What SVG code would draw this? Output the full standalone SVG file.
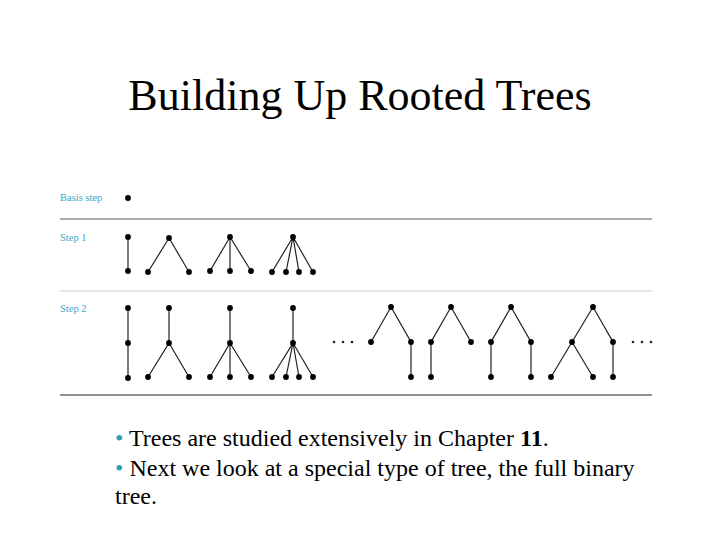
<svg xmlns="http://www.w3.org/2000/svg" width="720" height="540" viewBox="0 0 720 540">
<style>
.e{stroke:#222;stroke-width:1.2;fill:none}
.n{fill:#000}
.lbl{font-family:"Liberation Serif",serif;font-size:10.5px;fill:#3aa8c8}
.t{font-family:"Liberation Serif",serif;font-size:24px;fill:#000}
.b{fill:#2aa0b0}
</style>
<defs><circle id="d" r="2.9" class="n"/></defs>
<rect width="720" height="540" fill="#fff"/>
<text x="360" y="110" text-anchor="middle" font-family="Liberation Serif,serif" font-size="44">Building Up Rooted Trees</text>
<text class="lbl" x="60" y="201">Basis step</text>
<text class="lbl" x="60" y="241">Step 1</text>
<text class="lbl" x="60" y="312">Step 2</text>
<line x1="60" y1="219" x2="652" y2="219" stroke="#555" stroke-width="1"/>
<line x1="60" y1="291" x2="652" y2="291" stroke="#ccc" stroke-width="1.2"/>
<line x1="60" y1="395" x2="652" y2="395" stroke="#222" stroke-width="1"/>
<g id="connectors">
<path class="e" d="M128 237V271M169 238L148 272M169 238L189 272M230 237L210 271M230 237V271M230 237L251 271M293 237L272 272M293 237L286 272M293 237L299 272M293 237L313 272"/>
<path class="e" d="M128 308V378M169 308V343L148 377M169 343L189 377M230 308V343L210 377M230 343V377M230 343L251 377M293 308V343L272 377M293 343L286 377M293 343L299 377M293 343L313 377"/>
<path class="e" d="M391 307L371 342M391 307L411 342V377M451 307L431 342V377M451 307L471 342M511 307L491 342V377M511 307L531 342V377M593 307L572 342L551 377M572 342L593 377M593 307L613 342V377"/>
</g>
<g id="nodes">
<use href="#d" x="128" y="198"/>
<use href="#d" x="128" y="237"/><use href="#d" x="128" y="271"/>
<use href="#d" x="169" y="238"/><use href="#d" x="148" y="272"/><use href="#d" x="189" y="272"/>
<use href="#d" x="230" y="237"/><use href="#d" x="210" y="271"/><use href="#d" x="230" y="271"/><use href="#d" x="251" y="271"/>
<use href="#d" x="293" y="237"/><use href="#d" x="272" y="272"/><use href="#d" x="286" y="272"/><use href="#d" x="299" y="272"/><use href="#d" x="313" y="272"/>
<use href="#d" x="128" y="308"/><use href="#d" x="128" y="343"/><use href="#d" x="128" y="378"/>
<use href="#d" x="169" y="308"/><use href="#d" x="169" y="343"/><use href="#d" x="148" y="377"/><use href="#d" x="189" y="377"/>
<use href="#d" x="230" y="308"/><use href="#d" x="230" y="343"/><use href="#d" x="210" y="377"/><use href="#d" x="230" y="377"/><use href="#d" x="251" y="377"/>
<use href="#d" x="293" y="308"/><use href="#d" x="293" y="343"/><use href="#d" x="272" y="377"/><use href="#d" x="286" y="377"/><use href="#d" x="299" y="377"/><use href="#d" x="313" y="377"/>
<use href="#d" x="391" y="307"/><use href="#d" x="371" y="342"/><use href="#d" x="411" y="342"/><use href="#d" x="411" y="377"/>
<use href="#d" x="451" y="307"/><use href="#d" x="431" y="342"/><use href="#d" x="471" y="342"/><use href="#d" x="431" y="377"/>
<use href="#d" x="511" y="307"/><use href="#d" x="491" y="342"/><use href="#d" x="531" y="342"/><use href="#d" x="491" y="377"/><use href="#d" x="531" y="377"/>
<use href="#d" x="593" y="307"/><use href="#d" x="572" y="342"/><use href="#d" x="613" y="342"/><use href="#d" x="551" y="377"/><use href="#d" x="593" y="377"/><use href="#d" x="613" y="377"/>
</g>
<g fill="#222">
<circle cx="334" cy="342" r="1.3"/><circle cx="343" cy="342" r="1.3"/><circle cx="352" cy="342" r="1.3"/>
<circle cx="633" cy="342" r="1.3"/><circle cx="642" cy="342" r="1.3"/><circle cx="651" cy="342" r="1.3"/>
</g>
<text class="t" x="115" y="446"><tspan class="b">•</tspan> Trees are studied extensively in Chapter <tspan font-weight="bold">11</tspan>.</text>
<text class="t" x="115" y="476"><tspan class="b">•</tspan> Next we look at a special type of tree, the full binary</text>
<text class="t" x="115" y="504">tree.</text>
</svg>
